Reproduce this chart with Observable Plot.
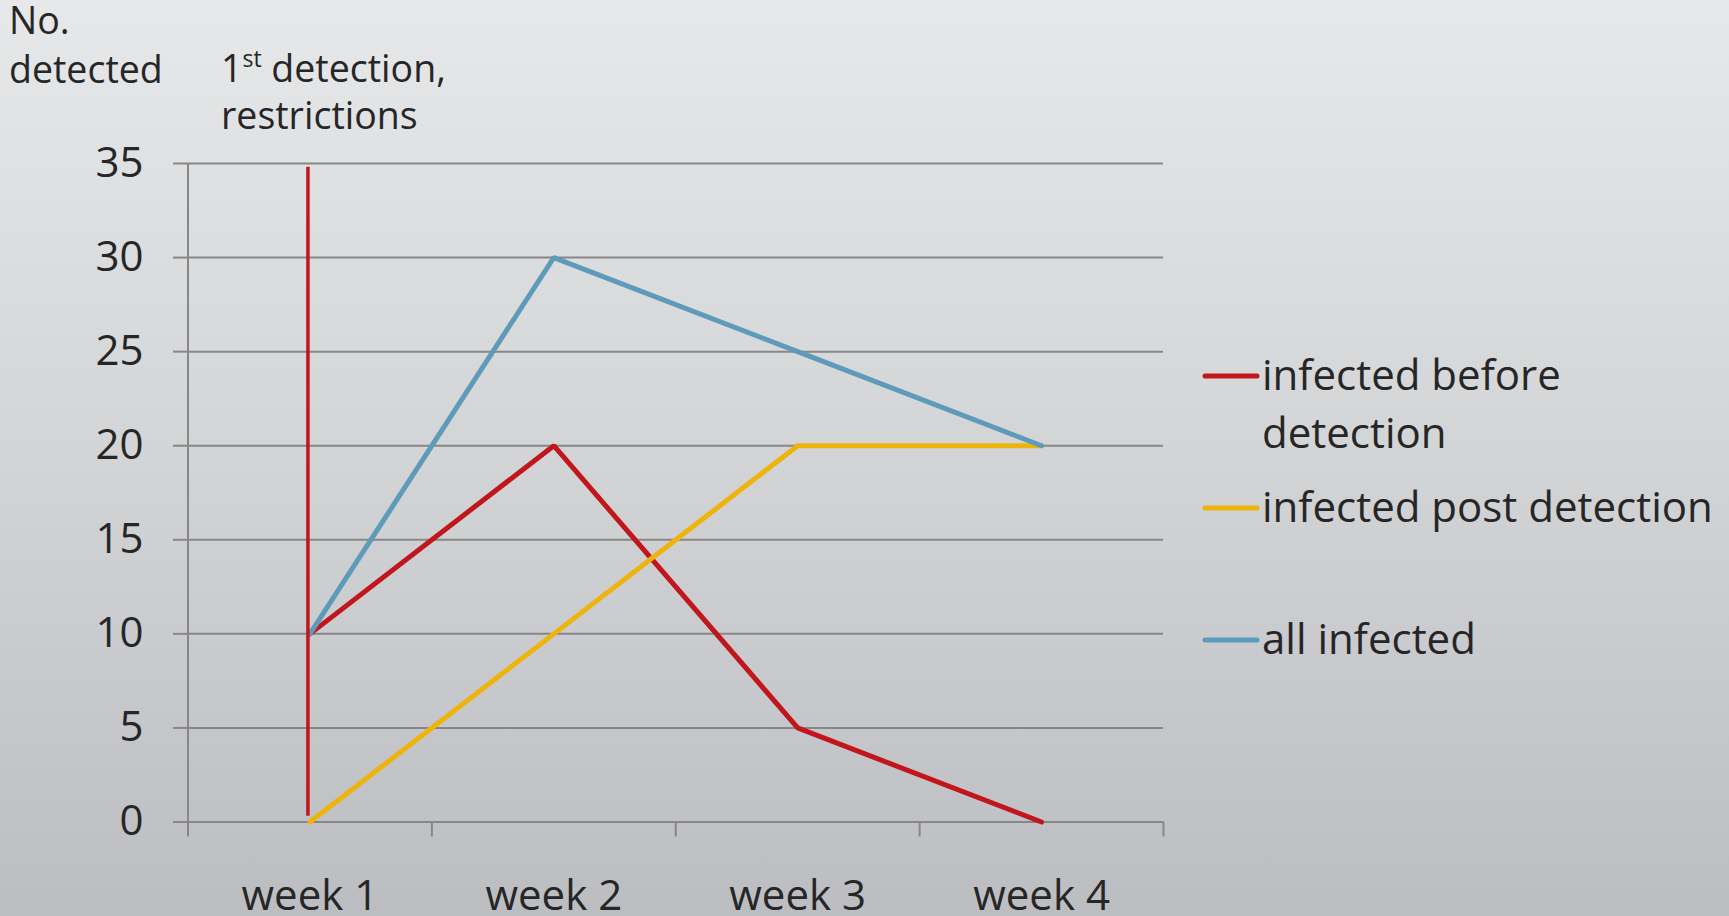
<!DOCTYPE html>
<html><head><meta charset="utf-8">
<script src="https://cdn.jsdelivr.net/npm/d3@7"></script>
<script src="https://cdn.jsdelivr.net/npm/@observablehq/plot@0.6"></script>
<style>
html,body{margin:0;padding:0;}
body{width:1729px;height:916px;overflow:hidden;background:linear-gradient(to bottom,#e7e8e9 0%,#d3d4d6 50%,#bcbdc1 100%);font-family:"Open Sans",sans-serif;position:relative;}
#chart{position:absolute;left:0;top:0;}
#overlay{position:absolute;left:0;top:0;pointer-events:none;font-family:"Open Sans",sans-serif;}
</style></head><body>
<div id="chart"></div>
<svg id="overlay" width="1729" height="916"></svg>
<script>
const weeks = ["week 1", "week 2", "week 3", "week 4"];
const infectedBefore = [10, 20, 5, 0];
const infectedPost = [0, 10, 20, 20];
const allInfected = [10, 30, 25, 20];
const yTicks = [0, 5, 10, 15, 20, 25, 30, 35];
const seriesNames = ["infected before detection", "infected post detection", "all infected"];
const seriesLegendLines = [["infected before", "detection"], ["infected post detection"], ["all infected"]];
const seriesColors = ["#c0161c", "#eeb40c", "#5e9bba"];
const detectionWeek = "week 1";
const detectionSpan = [0.3, 34.8];
const yTitle = ["No.", "detected"];
const annotationLines = [["1", "st", " detection,"], ["restrictions"]];

const TEXT = "#262626";
const GRID = "#878787";

const rows = [];
[infectedBefore, infectedPost, allInfected].forEach((vals, s) =>
  vals.forEach((v, i) => rows.push({series: seriesNames[s], pos: i + 0.5, value: v})));
const weekPos = w => weeks.indexOf(w) + 0.5;

const chart = Plot.plot({
  width: 1729, height: 916,
  marginLeft: 187.5, marginRight: 566, marginTop: 163, marginBottom: 94.5,
  style: {background: "transparent", fontFamily: "'Open Sans', sans-serif", color: TEXT},
  x: {type: "linear", domain: [0, weeks.length], label: null},
  y: {domain: [0, 35], label: null},
  color: {domain: seriesNames, range: seriesColors},
  marks: [
    Plot.gridY(yTicks, {stroke: GRID, strokeOpacity: 1, strokeWidth: 2}),
    Plot.axisY(yTicks, {tickSize: 14.5, tickPadding: 30, fontSize: 42, stroke: GRID, strokeWidth: 2, tickFormat: d => String(d), label: null, fill: TEXT}),
    Plot.ruleX([0], {stroke: GRID, strokeWidth: 2}),
    Plot.axisX(d3.range(weeks.length + 1), {tickSize: 15, tickFormat: () => "", stroke: GRID, strokeWidth: 2, label: null}),
    Plot.axisX(weeks.map(weekPos), {tickSize: 0, tickPadding: 58, fontSize: 42, tickFormat: d => weeks[d - 0.5], label: null, fill: TEXT}),
    Plot.line(rows, {x: "pos", y: "value", z: "series", stroke: "series", strokeWidth: 5, strokeLinejoin: "miter"}),
    Plot.ruleX([weekPos(detectionWeek)], {y1: detectionSpan[0], y2: detectionSpan[1], dx: -2, stroke: seriesColors[0], strokeWidth: 3.5})
  ]
});
document.getElementById("chart").appendChild(chart);

// Overlay texts and legend
const ov = d3.select("#overlay");
const TS = 37.5;
ov.append("text").attr("x", 9).attr("y", 34).attr("font-size", TS).attr("fill", TEXT).text(yTitle[0]);
ov.append("text").attr("x", 9).attr("y", 83).attr("font-size", TS).attr("fill", TEXT).text(yTitle[1]);
const a1 = ov.append("text").attr("x", 221).attr("y", 82).attr("font-size", TS).attr("fill", TEXT);
a1.append("tspan").text(annotationLines[0][0]);
a1.append("tspan").attr("font-size", 23).attr("dy", -15).text(annotationLines[0][1]);
a1.append("tspan").attr("dy", 15).text(annotationLines[0][2]);
ov.append("text").attr("x", 221).attr("y", 129).attr("font-size", TS).attr("fill", TEXT).text(annotationLines[1][0]);

seriesNames.forEach((name, i) => {
  const y = 376 + 132 * i;
  ov.append("line").attr("x1", 1205).attr("x2", 1257).attr("y1", y).attr("y2", y)
    .attr("stroke", seriesColors[i]).attr("stroke-width", 5).attr("stroke-linecap", "round");
  seriesLegendLines[i].forEach((ln, j) => {
    ov.append("text").attr("x", 1262).attr("y", y + 14 + 58 * j).attr("font-size", 42).attr("fill", TEXT).text(ln);
  });
});
</script>
</body></html>
